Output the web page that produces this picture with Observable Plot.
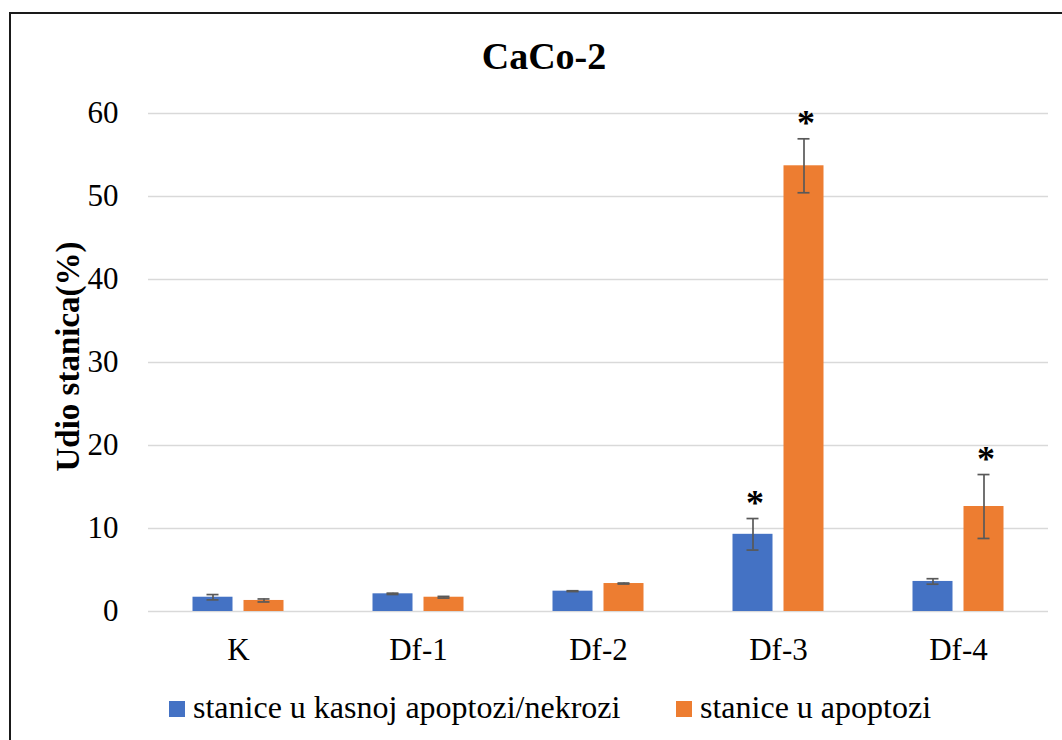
<!DOCTYPE html>
<html>
<head>
<meta charset="utf-8">
<script src="https://cdn.jsdelivr.net/npm/d3@7"></script>
<script src="https://cdn.jsdelivr.net/npm/@observablehq/plot@0.6"></script>
<style>
  html, body { margin: 0; padding: 0; background: #fff; }
  body { width: 1062px; height: 740px; overflow: hidden; position: relative;
         font-family: "Liberation Serif", "Times New Roman", serif; color: #000; }
  #frame { position: absolute; left: 9px; top: 12px; width: 1120px; height: 800px;
           border-left: 2px solid #1a1a1a; border-top: 2px solid #1a1a1a; }
  #title { position: absolute; left: 0; top: 37px; width: 1088px; text-align: center;
           font-size: 38px; line-height: 38px; font-weight: bold; white-space: nowrap; }
  #chart { position: absolute; left: 0; top: 90px; }
  .lg-sw { position: absolute; top: 701px; width: 16px; height: 16px; }
  .lg-tx { position: absolute; top: 691px; font-size: 32px; line-height: 32px; white-space: nowrap; }
</style>
</head>
<body>
<div id="frame"></div>
<div id="title">CaCo-2</div>
<div id="chart"></div>
<div id="legend"></div>
<script>
// ---- data ----
const categories = ["K", "Df-1", "Df-2", "Df-3", "Df-4"];
const lateValues  = [1.72, 2.13, 2.45, 9.3, 3.62];
const lateErrors  = [0.32, 0.08, 0.05, 1.9, 0.33];
const apoptValues = [1.33, 1.72, 3.37, 53.7, 12.65];
const apoptErrors = [0.18, 0.1, 0.06, 3.25, 3.85];
const lateStars   = [false, false, false, true, false];
const apoptStars  = [false, false, false, true, true];
const seriesNames  = ["stanice u kasnoj apoptozi/nekrozi", "stanice u apoptozi"];
const seriesColors = ["#4472C4", "#ED7D31"];
const yTicks = [0, 10, 20, 30, 40, 50, 60];
const yLabel = "Udio stanica(%)";

const late  = categories.map((c, i) => ({category: c, value: lateValues[i],  err: lateErrors[i],  star: lateStars[i]}));
const apopt = categories.map((c, i) => ({category: c, value: apoptValues[i], err: apoptErrors[i], star: apoptStars[i]}));

const errColor = "#595959";
function seriesMarks(data, color, dx) {
  return [
    Plot.barY(data, {x: "category", y: "value", fill: color, insetLeft: 70, insetRight: 70, dx}),
    Plot.ruleX(data, {x: "category", y1: d => d.value - d.err, y2: d => d.value + d.err, dx, stroke: errColor, strokeWidth: 1.7}),
    Plot.tickY(data, {x: "category", y: d => d.value + d.err, dx, insetLeft: 84, insetRight: 84, stroke: errColor, strokeWidth: 1.7}),
    Plot.tickY(data, {x: "category", y: d => d.value - d.err, dx, insetLeft: 84, insetRight: 84, stroke: errColor, strokeWidth: 1.7}),
    Plot.text(data.filter(d => d.star), {x: "category", y: d => d.value + d.err, text: () => "*", dx: dx + 2, dy: -15,
      fontSize: 36, fontWeight: "bold", fill: "#000"})
  ];
}

const chart = Plot.plot({
  width: 1062,
  height: 590,
  marginLeft: 148,
  marginRight: 14,
  marginTop: 23,
  marginBottom: 69,
  style: {fontFamily: "'Liberation Serif', 'Times New Roman', serif", fontSize: "31px", color: "#000", background: "transparent", overflow: "visible"},
  x: {domain: categories, padding: 0, axis: null},
  y: {domain: [0, 60], axis: null},
  marks: [
    Plot.ruleY(yTicks, {y: d => d, stroke: "#d9d9d9", strokeWidth: 1.4}),
    ...seriesMarks(late, seriesColors[0], -25.5),
    ...seriesMarks(apopt, seriesColors[1], 25.5),
    Plot.text(yTicks, {y: d => d, text: d => String(d), frameAnchor: "left", textAnchor: "end", dx: -30, fontSize: 31, fill: "#000"}),
    Plot.text(categories, {x: d => d, text: d => d, frameAnchor: "bottom", textAnchor: "middle", lineAnchor: "top", dy: 26, fontSize: 31, fill: "#000"}),
    Plot.text([yLabel], {text: d => d, frameAnchor: "left", textAnchor: "middle", lineAnchor: "middle", rotate: -90, dx: -80, dy: -6, fontSize: 33, fontWeight: "bold", fill: "#000"})
  ]
});
document.getElementById("chart").appendChild(chart);

// legend
const legend = document.getElementById("legend");
const swX = [169, 676];
const txX = [193, 700];
seriesNames.forEach((name, i) => {
  const sw = document.createElement("div");
  sw.className = "lg-sw";
  sw.style.left = swX[i] + "px";
  sw.style.background = seriesColors[i];
  legend.appendChild(sw);
  const tx = document.createElement("div");
  tx.className = "lg-tx";
  tx.style.left = txX[i] + "px";
  tx.textContent = name;
  legend.appendChild(tx);
});
</script>
</body>
</html>
